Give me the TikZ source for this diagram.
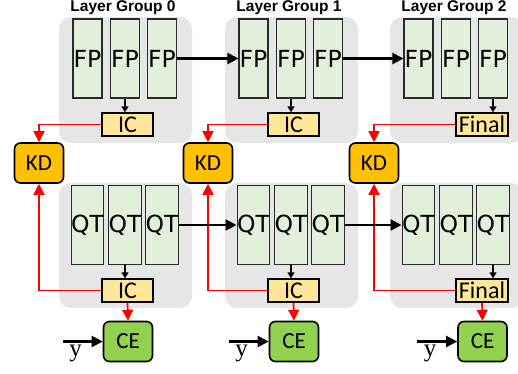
\documentclass[tikz,border=0pt]{standalone}
\usepackage{fontspec}
\setmainfont{DejaVu Sans}
\newfontfamily\headfont{Liberation Sans}
\newfontfamily\boxfont{Carlito}
\newfontfamily\serifface{Liberation Serif}
\usetikzlibrary{arrows.meta}
\definecolor{groupgray}{HTML}{E6E6E6}
\definecolor{layerfill}{HTML}{E2EFDA}
\definecolor{layeredge}{HTML}{2A2A2A}
\definecolor{exitfill}{HTML}{FFE699}
\definecolor{kdfill}{HTML}{FFC000}
\definecolor{cefill}{HTML}{92D050}

\begin{document}
\begin{tikzpicture}[x=1pt, y=-1pt,
                    every node/.style={inner sep=0pt},
                    groupbg/.style={fill=groupgray, rounded corners=12pt},
                    layerbox/.style={draw=layeredge, fill=layerfill, line width=1.1pt,
                                     minimum width=29pt, minimum height=79pt,
                                     font=\fontsize{23.5}{23.5}\selectfont},
                    exitbox/.style={draw=black, fill=exitfill, line width=1.4pt,
                                    minimum height=23pt,
                                    font=\boxfont\fontsize{24}{24}\selectfont},
                    lossbox/.style={draw=black, line width=1.6pt, rounded corners=6pt,
                                    minimum width=49pt, minimum height=40pt,
                                    font=\boxfont\fontsize{23}{23}\selectfont},
                    grouptitle/.style={font=\headfont\bfseries\fontsize{15.5}{15.5}\selectfont},
                    ylabel/.style={font=\serifface\fontsize{25}{25}\selectfont},
                    flowarrow/.style={line width=2.1pt, -{Triangle[length=11pt,width=11pt]}},
                    tiparrow/.style={line width=1.5pt, -{Triangle[length=6pt,width=7pt]}},
                    kdarrow/.style={red, line width=1.7pt, -{Triangle[length=11pt,width=11pt]}}]

  \useasboundingbox (0,0) rectangle (518,373);

  %% 三個 layer group：上排 FP，下排 QT
  \foreach \g/\gx/\kdx/\exname/\exx/\exw/\src in
      {0/0/39/IC/127.5/51/2, 1/166/208/IC/127.5/51/2, 2/331/374/Final/151/52/3} {

    %% 灰色底
    \fill[groupbg] (59+\gx,17) rectangle (192+\gx,143);
    \fill[groupbg] (59+\gx,183) rectangle (192+\gx,308);
    \node[grouptitle] (title\g) at (123+\gx,8) {Layer Group \g};

    %% 各層
    \foreach \k/\kx in {1/87.5, 2/125, 3/162} {
      \node[layerbox] (fp\g\k) at (\kx+\gx,58.5) {FP};
      \node[layerbox] (qt\g\k) at (\kx+\gx,225) {QT};
    }

    %% 出口、KD 與 CE
    \node[exitbox, minimum width=\exw pt] (exittop\g) at (\exx+\gx,124.5) {\exname};
    \node[exitbox, minimum width=\exw pt] (exitbot\g) at (\exx+\gx,290.5) {\exname};
    \node[lossbox, fill=kdfill] (kd\g) at (\kdx,163) {KD};
    \node[lossbox, fill=cefill] (ce\g) at (\exx+\gx+0.5,341.5) {CE};

    \draw[tiparrow] (fp\g\src.south) -- (fp\g\src.south |- exittop\g.north);
    \draw[tiparrow] (qt\g\src.south) -- (qt\g\src.south |- exitbot\g.north);
    \draw[kdarrow] (exittop\g.west) -| (kd\g.north);
    \draw[kdarrow] (exitbot\g.west) -| (kd\g.south);
    \draw[kdarrow] (exitbot\g.south) -- (ce\g.north);

    %% 標籤 y
    \coordinate (ystart\g) at ([xshift=-40pt]ce\g.west);
    \draw[flowarrow] (ystart\g) -- (ce\g.west);
    \node[ylabel, anchor=north] (ylab\g) at ([xshift=13pt,yshift=-3pt]ystart\g) {y};
  }

  %% 組與組之間
  \draw[flowarrow] (fp03) -- (fp11);
  \draw[flowarrow] (fp13) -- (fp21);
  \draw[flowarrow] (qt03) -- (qt11);
  \draw[flowarrow] (qt13) -- (qt21);

\end{tikzpicture}
\end{document}
